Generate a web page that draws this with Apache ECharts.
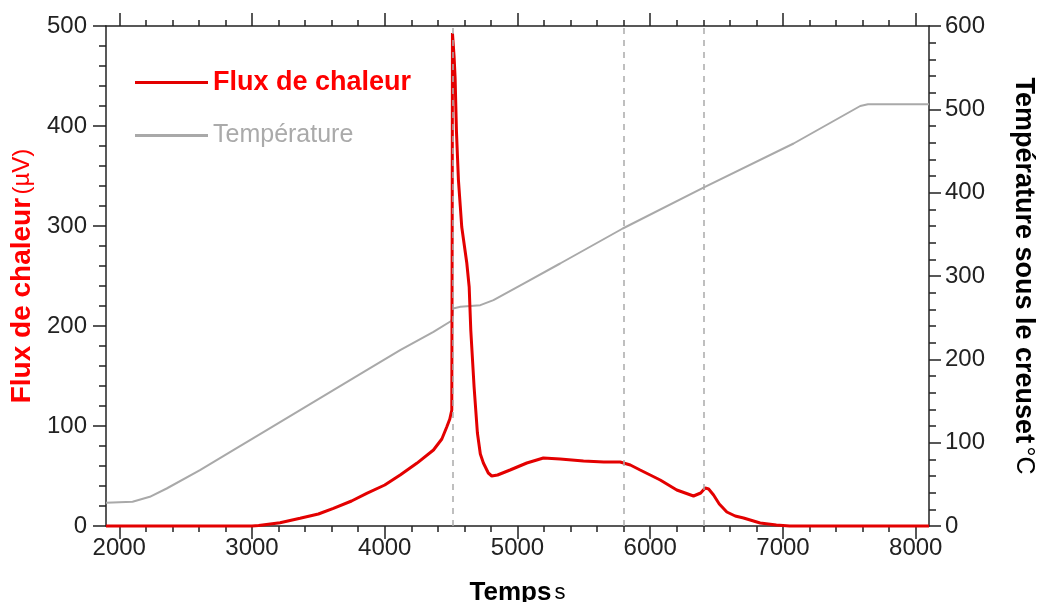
<!DOCTYPE html>
<html>
<head>
<meta charset="utf-8">
<script src="https://cdn.jsdelivr.net/npm/echarts@6/dist/echarts.min.js"></script>
<style>
html,body{margin:0;padding:0;background:#fff;}
#chart{width:1040px;height:602px;}
</style>
</head>
<body>
<div id="chart"></div>
<script>
// ---- data ----
const fluxTime = [1900,2500,3000,3050,3211,3362,3500,3613,3750,3864,4000,4116,4241,4367,4430,4467,4490,4505,4508,4510,4516,4522,4530,4540,4555,4580,4618,4636,4648,4673,4698,4720,4743,4780,4806,4850,4944,5070,5195,5321,5497,5650,5773,5850,5924,6075,6200,6326,6380,6414,6440,6477,6520,6577,6640,6703,6828,6950,7050,8100];
const fluxValues = [0,0,0,0.5,3.3,7.7,12,17.7,25,32.7,41,51,62.7,76,87,99,107,116,300,493,493,470,448,395,346,299,263,239,196,139,93,72,63,53,50,51,56,63,68,67,65,64,64,61,56,46,36,30,33,38,37,31,22,14,10,8,3,1,0,0];
const tempTime = [1900,2100,2230,2357,2608,2859,3111,3362,3613,3864,4116,4367,4500,4510,4515,4570,4720,4819,5070,5321,5793,6401,7080,7582,7640,8100];
const tempValues = [28,29,35,45,67,91,115,139,163,187,211,233,246,250,261,263,265,271,293,315,357,406,459,504,506,506];
const markerTimes = [4510,5800,6400];
const xMajorTicks = [2000,3000,4000,5000,6000,7000,8000];
const xMinorTicks = [2200,2400,2600,2800,3200,3400,3600,3800,4200,4400,4600,4800,5200,5400,5600,5800,6200,6400,6600,6800,7200,7400,7600,7800];
const seriesNames = ['Flux de chaleur','Température'];

const FONT = '"Liberation Sans", Arial, sans-serif';
const AX = '#222';
const plain = v => String(v);

function zip(a,b){return a.map((t,i)=>[t,b[i]]);}

function xAxisDef(pos, ticks, len, showLabel, showLine){
  return {
    type:'value', position:pos, min:1900, max:8100,
    axisLine:{show:showLine, lineStyle:{color:AX, width:1.5}},
    axisTick:{show:true, inside:false, length:len, customValues:ticks, lineStyle:{color:AX, width:1.5}},
    axisLabel:{show:showLabel, customValues:ticks, formatter:plain, margin:10, fontSize:24, fontFamily:FONT, color:AX},
    splitLine:{show:false}
  };
}

const chart = echarts.init(document.getElementById('chart'));
chart.setOption({
  animation:false,
  backgroundColor:'#fff',
  grid:{left:106, right:111, top:26, bottom:76, containLabel:false, outerBoundsMode:'none'},
  legend:{
    orient:'vertical', left:130, top:64, itemWidth:73, itemHeight:3, itemGap:27, icon:'rect',
    data:[
      {name:seriesNames[0], textStyle:{color:'#ff0000', fontWeight:'bold', fontSize:27, fontFamily:FONT}},
      {name:seriesNames[1], textStyle:{color:'#aaaaaa', fontSize:25, fontFamily:FONT}}
    ]
  },
  xAxis:[
    Object.assign(xAxisDef('bottom', xMajorTicks, 13, true, true), {
      name:'{b|Temps}{n|s}', nameLocation:'middle', nameGap:54,
      nameTextStyle:{rich:{b:{fontSize:26, fontWeight:'bold', fontFamily:FONT, color:'#000'}, n:{fontSize:22, fontFamily:FONT, color:'#000', padding:[0,0,0,3]}}}
    }),
    xAxisDef('bottom', xMinorTicks, 6, false, false),
    xAxisDef('top', xMajorTicks, 13, false, true),
    xAxisDef('top', xMinorTicks, 6, false, false)
  ],
  yAxis:[
    {
      type:'value', position:'left', min:0, max:500, interval:100,
      axisLine:{show:true, lineStyle:{color:AX, width:1.5}},
      axisTick:{show:true, inside:false, length:13, lineStyle:{color:AX, width:1.5}},
      minorTick:{show:true, splitNumber:5, length:7, lineStyle:{color:AX, width:1.5}},
      axisLabel:{margin:19, fontSize:24, fontFamily:FONT, color:AX, formatter:plain},
      splitLine:{show:false},
      name:'{b|Flux de chaleur} {n|(µV)}', nameLocation:'middle', nameRotate:90, nameGap:63,
      nameTextStyle:{rich:{b:{fontSize:28, fontWeight:'bold', fontFamily:FONT, color:'#ff0000'}, n:{fontSize:24, fontFamily:FONT, color:'#ff0000'}}}
    },
    {
      type:'value', position:'right', min:0, max:600, interval:100,
      axisLine:{show:true, lineStyle:{color:AX, width:1.5}},
      axisTick:{show:true, inside:false, length:12, lineStyle:{color:AX, width:1.5}},
      minorTick:{show:true, splitNumber:5, length:7, lineStyle:{color:AX, width:1.5}},
      axisLabel:{margin:16, fontSize:24, fontFamily:FONT, color:AX, formatter:plain},
      splitLine:{show:false},
      name:'{b|Température sous le creuset} {n|°C}', nameLocation:'middle', nameRotate:-90, nameGap:81,
      nameTextStyle:{rich:{b:{fontSize:27, fontWeight:'bold', fontFamily:FONT, color:'#000'}, n:{fontSize:25, fontFamily:FONT, color:'#000'}}}
    }
  ],
  series:[
    {
      name:seriesNames[1], type:'line', xAxisIndex:0, yAxisIndex:1, symbol:'none', clip:false,
      data:zip(tempTime, tempValues),
      lineStyle:{color:'#a9a9a9', width:2}, itemStyle:{color:'#a9a9a9'}, z:2
    },
    {
      name:seriesNames[0], type:'line', xAxisIndex:0, yAxisIndex:0, symbol:'none', clip:false,
      data:zip(fluxTime, fluxValues),
      lineStyle:{color:'#e30000', width:3}, itemStyle:{color:'#e30000'}, z:3,
      markLine:{
        silent:true, symbol:'none', label:{show:false},
        lineStyle:{color:'#aaaaaa', type:[6,6], width:1.5},
        data:markerTimes.map(t=>({xAxis:t}))
      }
    }
  ]
});
</script>
</body>
</html>
